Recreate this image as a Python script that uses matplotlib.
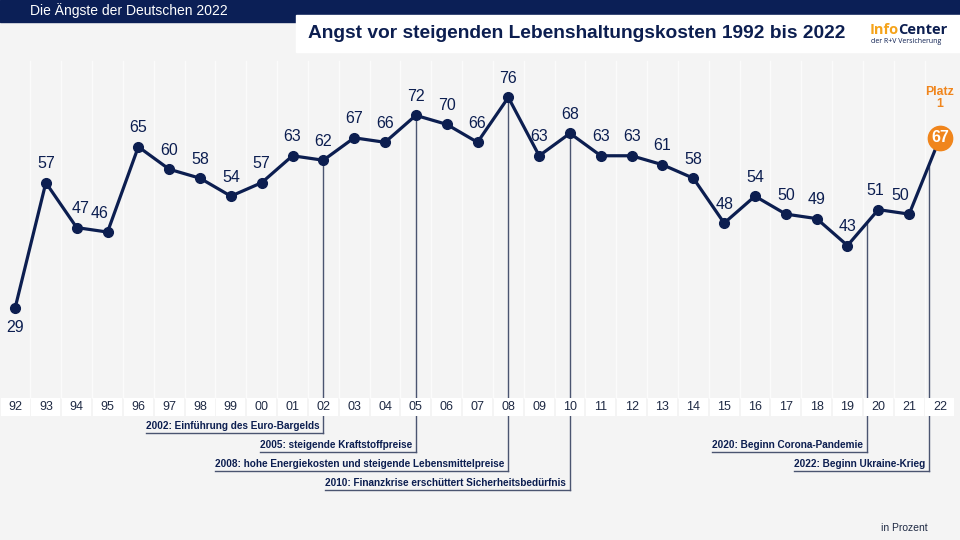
"""
Angst vor steigenden Lebenshaltungskosten 1992 bis 2022
"""

#%%
# 1. imports
import numpy as np
import matplotlib
matplotlib.use('Agg')
import matplotlib.pyplot as plt
from matplotlib.patches import Rectangle

#%%
# 2. data
years = np.arange(1992, 2023)
tick_labels = ['92','93','94','95','96','97','98','99','00','01','02','03','04','05','06','07',
               '08','09','10','11','12','13','14','15','16','17','18','19','20','21','22']
values = [29, 57, 47, 46, 65, 60, 58, 54, 57, 63, 62, 67, 66, 72, 70, 66,
          76, 63, 68, 63, 63, 61, 58, 48, 54, 50, 49, 43, 51, 50, 67]

event_years = [2002, 2005, 2008, 2010, 2019.635, 2021.646]
event_texts = ['2002: Einführung des Euro-Bargelds',
               '2005: steigende Kraftstoffpreise',
               '2008: hohe Energiekosten und steigende Lebensmittelpreise',
               '2010: Finanzkrise erschüttert Sicherheitsbedürfnis',
               '2020: Beginn Corona-Pandemie',
               '2022: Beginn Ukraine-Krieg']
event_levels = [1.2, -3.0, -7.2, -11.5, -3.0, -7.2]

#%%
# 3. style
NAVY = '#0c1e50'
ORANGE = '#f0851c'
BG = '#f4f4f4'
LINECOL = '#4a5470'
plt.rcParams['font.family'] = ['Liberation Sans', 'DejaVu Sans']

fig = plt.figure(figsize=(9.6, 5.4), dpi=100)
fig.patch.set_facecolor(BG)
ax = fig.add_axes([0, 0, 1, 1])
ax.set_facecolor(BG)
ax.set_xlim(1991.513, 2022.649)
ax.set_ylim(-22.6, 97.7)
ax.axis('off')

#%%
# 4. grid + tick label row
for yr in years[:-1]:
    ax.plot([yr + 0.5, yr + 0.5], [9, 84], color='#fbfbfb', lw=1.0, zorder=1)
ax.bar(years, 4.0, bottom=5.0, width=0.94, color='white', zorder=3)
for yr, lab in zip(years, tick_labels):
    ax.text(yr, 7.0, lab, ha='center', va='center', fontsize=9, color='#1f2a44', zorder=4)

#%%
# 5. event annotations
fig.canvas.draw()
renderer = fig.canvas.get_renderer()
inv = ax.transData.inverted()
for ex, txt, lev in zip(event_years, event_texts, event_levels):
    top = np.interp(ex, years, values)
    ax.plot([ex, ex], [lev, top], color=LINECOL, lw=1.0, zorder=2)
    t = ax.text(ex - 0.12, lev + 0.5, txt, ha='right', va='bottom', fontsize=7.2,
                fontweight='bold', color=NAVY, zorder=4)
    bb = t.get_window_extent(renderer)
    x0 = inv.transform((bb.x0, bb.y0))[0]
    ax.plot([x0, ex], [lev, lev], color=LINECOL, lw=1.0, zorder=2)

#%%
# 6. main line
ax.plot(years[:-1], values[:-1], color=NAVY, lw=2.3, marker='o', markersize=7, zorder=5)
ax.plot(years[-2:], values[-2:], color=NAVY, lw=2.3, zorder=5)
ax.plot(years[-1], values[-1], 'o', color=ORANGE, markersize=17.5, zorder=6)
ax.text(years[-1], values[-1], str(values[-1]), ha='center', va='center', fontsize=11.5,
        fontweight='bold', color='white', zorder=7)
ax.text(years[-1], values[-1] + 6.3, 'Platz\n1', ha='center', va='bottom', fontsize=8.8,
        fontweight='bold', color=ORANGE, linespacing=1.0, zorder=7)

# value labels (small manual nudges where the original does it)
dx = {1994: 0.12, 1995: -0.25, 2021: -0.3, 2020: -0.1}
for yr, v in zip(years[:-1], values[:-1]):
    if yr == 1992:
        ax.text(yr, v - 4.2, str(v), ha='center', va='center', fontsize=11.5, color=NAVY, zorder=6)
    else:
        ax.text(yr + dx.get(yr, 0), v + 4.2, str(v), ha='center', va='center', fontsize=11.5,
                color=NAVY, zorder=6)

#%%
# 7. header
fig.patches.append(Rectangle((0, 1 - 22/540), 1, 22/540, transform=fig.transFigure,
                             color='#0b1f56', zorder=0))
fig.patches.append(Rectangle((296/960, 1 - 52/540), 664/960, 37/540, transform=fig.transFigure,
                             color='white', zorder=1))
fig.text(30/960, 1 - 11/540, 'Die Ängste der Deutschen 2022', color='white', fontsize=10,
         ha='left', va='center')
fig.text(308/960, 1 - 34/540, 'Angst vor steigenden Lebenshaltungskosten 1992 bis 2022',
         color=NAVY, fontsize=13.8, fontweight='bold', ha='left', va='center')
t1 = fig.text(870/960, 1 - 30/540, 'Info', color='#f5a31a', fontsize=10.5, fontweight='bold',
              family=['Open Sans', 'DejaVu Sans'], ha='left', va='center')
fig.canvas.draw()
bb = t1.get_window_extent(fig.canvas.get_renderer())
fig.text(bb.x1 / fig.bbox.width - 0.001, 1 - 30/540, 'Center', color=NAVY, fontsize=10.5,
         fontweight='bold', family=['Open Sans', 'DejaVu Sans'], ha='left', va='center')
fig.text(871/960, 1 - 42/540, 'der R+V Versicherung', color=NAVY, fontsize=5,
         family=['Open Sans', 'DejaVu Sans'], ha='left', va='center')

fig.text(928/960, 1 - 528/540, 'in Prozent', color='#1f2a44', fontsize=7.5, ha='right', va='center')

plt.savefig('out.png', dpi=100, facecolor=BG)
